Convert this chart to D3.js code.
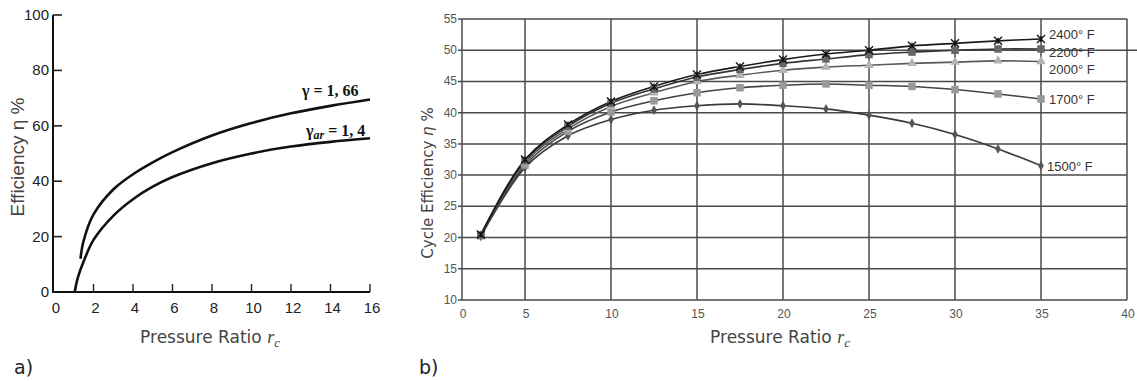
<!DOCTYPE html>
<html><head><meta charset="utf-8">
<script src="https://cdn.jsdelivr.net/npm/d3@7"></script>
<style>html,body{margin:0;padding:0;background:#fff;}svg{display:block;}</style>
</head><body>
<svg id="c" width="1137" height="381"></svg>
<script>
// ---- Chart a) data ----
const ticksAX = [0, 2, 4, 6, 8, 10, 12, 14, 16];
const ticksAY = [0, 20, 40, 60, 80, 100];
const gamma166X = [1.34, 1.5, 2, 3, 4, 5, 6, 8, 10, 12, 14, 16];
const gamma166Y = [12, 18.5, 28, 37, 42.5, 46.8, 50.5, 56.5, 61, 64.5, 67.2, 69.5];
const gamma14X = [1.05, 1.2, 1.5, 2, 3, 4, 5, 6, 8, 10, 12, 14, 16];
const gamma14Y = [0, 5, 11, 18.8, 27.5, 33.5, 38, 41.5, 46.5, 50, 52.5, 54.2, 55.5];

// ---- Chart b) data ----
const ticksBX = [0, 5, 10, 15, 20, 25, 30, 35, 40];
const ticksBY = [10, 15, 20, 25, 30, 35, 40, 45, 50, 55];
const pressureB = [1.5, 5, 7.5, 10, 12.5, 15, 17.5, 20, 22.5, 25, 27.5, 30, 32.5, 35];
const eff2400 = [20.5, 32.5, 38.1, 41.8, 44.2, 46.1, 47.4, 48.5, 49.4, 50.0, 50.7, 51.1, 51.5, 51.8];
const eff2200 = [20.4, 32.3, 37.8, 41.5, 43.8, 45.7, 46.9, 47.9, 48.6, 49.3, 49.7, 50.0, 50.2, 50.2];
const eff2000 = [20.3, 32.0, 37.4, 41.0, 43.2, 45.0, 46.0, 46.8, 47.3, 47.6, 47.9, 48.1, 48.3, 48.2];
const eff1700 = [20.3, 31.6, 37.0, 40.1, 41.9, 43.2, 44.0, 44.4, 44.6, 44.4, 44.2, 43.7, 43.0, 42.2];
const eff1500 = [20.2, 31.2, 36.3, 38.9, 40.4, 41.1, 41.4, 41.1, 40.6, 39.6, 38.3, 36.5, 34.2, 31.5];
const seriesNames = ["2400° F", "2200° F", "2000° F", "1700° F", "1500° F"];

const svg = d3.select("#c");

// ================= Chart a =================
const xA = d3.scaleLinear().domain([0, 16]).range([54, 370]);
const yA = d3.scaleLinear().domain([0, 100]).range([292, 15]);
const gA = svg.append("g");
const narrow = "'Liberation Sans Narrow', 'Liberation Sans', Arial, sans-serif";

gA.append("line").attr("x1", xA(0) - 1).attr("x2", xA(0) - 1).attr("y1", yA(100)).attr("y2", yA(0))
  .attr("stroke", "#111").attr("stroke-width", 2);
gA.append("line").attr("x1", xA(0) - 2).attr("x2", xA(16)).attr("y1", yA(0)).attr("y2", yA(0))
  .attr("stroke", "#111").attr("stroke-width", 2);
ticksAY.filter(d => d > 0).forEach(d => {
  gA.append("line").attr("x1", xA(0) - 1).attr("x2", xA(0) + 8).attr("y1", yA(d)).attr("y2", yA(d))
    .attr("stroke", "#222").attr("stroke-width", 1.6);
});
ticksAY.forEach(d => {
  gA.append("text").attr("x", xA(0) - 5).attr("y", yA(d) + 5).attr("text-anchor", "end")
    .attr("font-family", narrow).attr("font-size", 15).attr("fill", "#222").text(d);
});
ticksAX.filter(d => d > 0).forEach(d => {
  gA.append("line").attr("x1", xA(d)).attr("x2", xA(d)).attr("y1", yA(0)).attr("y2", yA(0) - 8)
    .attr("stroke", "#222").attr("stroke-width", 1.4);
});
ticksAX.forEach(d => {
  gA.append("text").attr("x", xA(d) + 2).attr("y", 313).attr("text-anchor", "middle")
    .attr("font-family", narrow).attr("font-size", 15).attr("fill", "#222").text(d);
});
const lineA = d3.line().x(d => xA(d[0])).y(d => yA(d[1])).curve(d3.curveCatmullRom.alpha(0.5));
gA.append("path").datum(d3.zip(gamma166X, gamma166Y)).attr("d", lineA)
  .attr("fill", "none").attr("stroke", "#111").attr("stroke-width", 2.6);
gA.append("path").datum(d3.zip(gamma14X, gamma14Y)).attr("d", lineA)
  .attr("fill", "none").attr("stroke", "#111").attr("stroke-width", 2.6);

const t1 = gA.append("text").attr("x", 302).attr("y", 96).attr("font-family", "'Liberation Serif', serif")
  .attr("font-size", 16).attr("font-weight", "bold").attr("fill", "#111");
t1.text("γ = 1, 66");
const t2 = gA.append("text").attr("x", 306).attr("y", 136).attr("font-family", "'Liberation Serif', serif")
  .attr("font-size", 16).attr("font-weight", "bold").attr("fill", "#111");
t2.append("tspan").text("γ");
t2.append("tspan").attr("font-style", "italic").attr("font-size", 12).attr("dy", 3).text("ar");
t2.append("tspan").attr("dy", -3).text(" = 1, 4");

gA.append("text").attr("transform", "translate(24,157) rotate(-90)").attr("text-anchor", "middle")
  .attr("font-family", "'Liberation Sans', Arial, sans-serif").attr("font-size", 19).attr("fill", "#444")
  .text("Efficiency η %");

function pressureLabel(g, cx) {
  const t = g.append("text").attr("x", cx).attr("y", 343).attr("text-anchor", "middle")
    .attr("font-family", "'DejaVu Sans', sans-serif").attr("font-size", 17).attr("fill", "#444");
  t.append("tspan").text("Pressure Ratio ");
  t.append("tspan").attr("font-family", "'Liberation Serif', serif").attr("font-style", "italic").attr("font-size", 18).text("r");
  t.append("tspan").attr("font-family", "'Liberation Serif', serif").attr("font-style", "italic").attr("font-size", 13).attr("dy", 4).text("c");
}
pressureLabel(gA, 210);
svg.append("text").attr("x", 14).attr("y", 374).attr("font-family", "'DejaVu Sans', sans-serif")
  .attr("font-size", 19).attr("fill", "#222").text("a)");

// ================= Chart b =================
const xB = d3.scaleLinear().domain([0, 5, 40]).range([462, 525, 1127]);
const yB = d3.scaleLinear().domain([10, 55]).range([300, 19]);
const gB = svg.append("g");
const grid = "#4a4a4a";

ticksBY.forEach(d => {
  gB.append("line").attr("x1", xB(0) - 4).attr("x2", d === 50 ? 1137 : xB(40)).attr("y1", yB(d)).attr("y2", yB(d))
    .attr("stroke", grid).attr("stroke-width", 1.5);
});
ticksBX.forEach(d => {
  gB.append("line").attr("x1", xB(d)).attr("x2", xB(d)).attr("y1", yB(55)).attr("y2", yB(10))
    .attr("stroke", grid).attr("stroke-width", 1.5);
});
ticksBY.forEach(d => {
  gB.append("text").attr("x", xB(0) - 5).attr("y", yB(d) + 4).attr("text-anchor", "end")
    .attr("font-family", "'Liberation Sans', Arial, sans-serif").attr("font-size", 12).attr("fill", "#555").text(d);
});
ticksBX.forEach(d => {
  gB.append("text").attr("x", xB(d) + 1).attr("y", 318).attr("text-anchor", "middle")
    .attr("font-family", "'Liberation Sans', Arial, sans-serif").attr("font-size", 12).attr("fill", "#555").text(d);
});

const seriesData = [eff2400, eff2200, eff2000, eff1700, eff1500];
const lineColors = ["#1a1a1a", "#333", "#5a5a5a", "#444", "#3a3a3a"];
const markerFill = ["#222", "#666", "#b4b4b4", "#999", "#555"];
const lineB = d3.line().x(d => xB(d[0])).y(d => yB(d[1])).curve(d3.curveCatmullRom.alpha(0.5));

const order = [4, 3, 2, 1, 0];
order.forEach(i => {
  gB.append("path").datum(d3.zip(pressureB, seriesData[i])).attr("d", lineB)
    .attr("fill", "none").attr("stroke", lineColors[i]).attr("stroke-width", 1.6);
});
order.forEach(i => {
  const pts = d3.zip(pressureB, seriesData[i]);
  pts.forEach(p => {
    const cx = xB(p[0]), cy = yB(p[1]);
    if (i === 0) {
      gB.append("path").attr("transform", `translate(${cx},${cy})`)
        .attr("d", "M-4,-4L4,4M-4,4L4,-4M0,-3L0,3")
        .attr("stroke", "#111").attr("stroke-width", 1.4).attr("fill", "none");
    } else if (i === 1 || i === 3) {
      gB.append("path").attr("transform", `translate(${cx},${cy})`)
        .attr("d", d3.symbol(d3.symbolSquare, 56)()).attr("fill", markerFill[i]);
    } else if (i === 2) {
      gB.append("path").attr("transform", `translate(${cx},${cy})`)
        .attr("d", d3.symbol(d3.symbolTriangle, 40)()).attr("fill", markerFill[i]);
    } else {
      gB.append("path").attr("transform", `translate(${cx},${cy})`)
        .attr("d", d3.symbol(d3.symbolDiamond, 28)()).attr("fill", markerFill[i]);
    }
  });
});

const labelY = [34, 52, 69, 99, 166];
seriesNames.forEach((n, i) => {
  gB.append("text").attr("x", i === 4 ? 1047 : 1049).attr("y", labelY[i] + 5)
    .attr("font-family", "'Liberation Sans', Arial, sans-serif").attr("font-size", 13).attr("fill", "#333").text(n);
});

const ty = gB.append("text").attr("transform", "translate(433,183) rotate(-90)").attr("text-anchor", "middle")
  .attr("font-family", "'DejaVu Sans', sans-serif").attr("font-size", 15).attr("fill", "#444");
ty.append("tspan").text("Cycle Efficiency ");
ty.append("tspan").attr("font-style", "italic").text("η");
ty.append("tspan").text(" %");
pressureLabel(gB, 780);
svg.append("text").attr("x", 419).attr("y", 374).attr("font-family", "'DejaVu Sans', sans-serif")
  .attr("font-size", 19).attr("fill", "#222").text("b)");
</script>
</body></html>
